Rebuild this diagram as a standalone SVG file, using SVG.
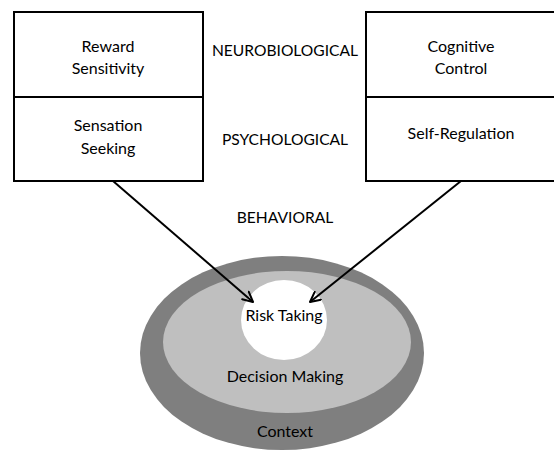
<svg xmlns="http://www.w3.org/2000/svg" width="554" height="450" viewBox="0 0 554 450">
<defs>
<style>
text{font-family:Lato,"Open Sans","Liberation Sans",sans-serif;font-size:16px;fill:#000;text-anchor:middle}
.cap{font-size:15.6px}
.box{fill:#fff;stroke:#000;stroke-width:2}
.conn{stroke:#000;stroke-width:2;fill:none}
.head{stroke:#000;stroke-width:2;fill:none;stroke-linecap:round;stroke-linejoin:round}
</style>
<marker id="arr" viewBox="0 0 12 12" refX="11" refY="6" markerWidth="12" markerHeight="12" markerUnits="userSpaceOnUse" orient="auto">
<path d="M1,1 L11,6 L1,11" class="head"/>
</marker>
</defs>
<rect width="554" height="450" fill="#fff"/>
<g id="context">
<ellipse cx="282" cy="353" rx="142" ry="97" fill="#7f7f7f"/>
<text x="285" y="437">Context</text>
</g>
<g id="decision-making">
<ellipse cx="287" cy="342" rx="124" ry="71" fill="#bfbfbf"/>
<text x="285" y="382">Decision Making</text>
</g>
<g id="risk-taking">
<ellipse cx="284" cy="320" rx="43" ry="40" fill="#fff"/>
<text x="284" y="321">Risk Taking</text>
</g>
<g id="left-box">
<rect class="box" x="14" y="12" width="189" height="169"/>
<line x1="14" y1="97" x2="203" y2="97" stroke="#000" stroke-width="2"/>
<text x="108" y="52">Reward</text>
<text x="108" y="74">Sensitivity</text>
<text x="108" y="131">Sensation</text>
<text x="108" y="154">Seeking</text>
</g>
<g id="right-box">
<rect class="box" x="366" y="12" width="190" height="169"/>
<line x1="366" y1="97" x2="556" y2="97" stroke="#000" stroke-width="2"/>
<text x="461" y="52">Cognitive</text>
<text x="461" y="74">Control</text>
<text x="461" y="139">Self-Regulation</text>
</g>
<g id="levels">
<text class="cap" x="285" y="56">NEUROBIOLOGICAL</text>
<text class="cap" x="285" y="145">PSYCHOLOGICAL</text>
<text class="cap" x="285" y="223">BEHAVIORAL</text>
</g>
<g id="connectors">
<line class="conn" x1="113" y1="181" x2="253" y2="302" marker-end="url(#arr)"/>
<line class="conn" x1="461" y1="181" x2="310" y2="302" marker-end="url(#arr)"/>
</g>
</svg>
